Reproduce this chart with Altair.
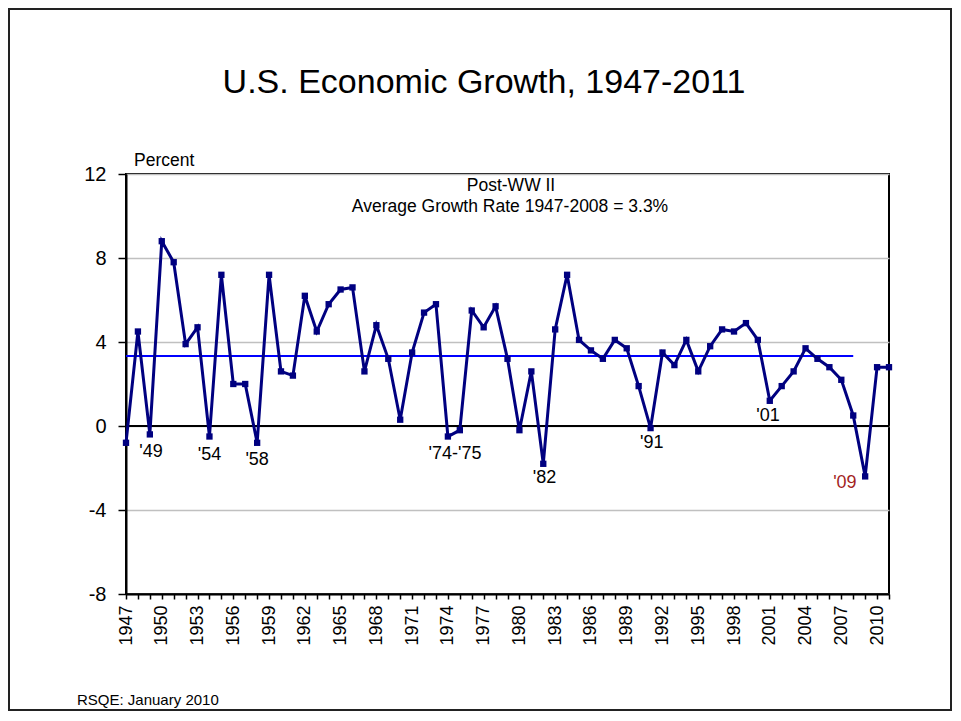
import altair as alt
import pandas as pd

# ---------------- data ----------------
years = list(range(1947, 2012))
growth = [-0.8, 4.5, -0.4, 8.8, 7.8, 3.9, 4.7, -0.5, 7.2, 2.0,
          2.0, -0.8, 7.2, 2.6, 2.4, 6.2, 4.5, 5.8, 6.5, 6.6,
          2.6, 4.8, 3.2, 0.3, 3.5, 5.4, 5.8, -0.5, -0.2, 5.5,
          4.7, 5.7, 3.2, -0.2, 2.6, -1.8, 4.6, 7.2, 4.1, 3.6,
          3.2, 4.1, 3.7, 1.9, -0.1, 3.5, 2.9, 4.1, 2.6, 3.8,
          4.6, 4.5, 4.9, 4.1, 1.2, 1.9, 2.6, 3.7, 3.2, 2.8,
          2.2, 0.5, -2.4, 2.8, 2.8]
avg_start = [1947]
avg_end = [2008]
avg_value = [3.33]
zero_line = [0]
y_ticks = [-8, -4, 0, 4, 8, 12]
label_text = ["'49", "'54", "'58", "'74-'75", "'82", "'91", "'01", "'09"]
label_year = [1949.1, 1954.0, 1958.0, 1974.6, 1982.1, 1991.1, 2000.85, 2007.3]
label_value = [-1.46, -1.62, -1.86, -1.57, -2.70, -1.06, 0.25, -2.97]

title_text = "U.S. Economic Growth, 1947-2011"
ann1 = "Post-WW II"
ann2 = "Average Growth Rate 1947-2008 = 3.3%"
ytitle = "Percent"
footer = "RSQE: January 2010"

# ---------------- chart ----------------
W, H = 763, 420
FONT = "Liberation Sans"
xscale = alt.Scale(domain=[1947, 2011], nice=False, zero=False)
yscale = alt.Scale(domain=[-8, 12], nice=False, zero=False)

df = pd.DataFrame({"year": years, "growth": growth})

xaxis = alt.Axis(values=years,
                 labelExpr="(datum.value - 1947) % 3 == 0 ? '' + datum.value : ''",
                 labelAngle=-90, labelFontSize=18, labelPadding=6,
                 labelOverlap=False, labelFlush=False, labelBound=False,
                 tickSize=5, tickColor="black", tickWidth=1.5,
                 domainColor="black", domainWidth=2, grid=False, title=None,
                 labelColor="black", labelFont=FONT)
yaxis = alt.Axis(values=y_ticks, labelExpr="'' + datum.value",
                 labelFontSize=20, labelPadding=12,
                 tickSize=8, tickColor="black", tickWidth=1.5,
                 domainColor="black", domainWidth=2,
                 grid=True, gridColor="#c0c0c0", gridWidth=1.5,
                 title=None, labelColor="black", labelFont=FONT)


def X(field):
    return alt.X(field, scale=xscale, axis=xaxis)


def Y(field):
    return alt.Y(field, scale=yscale, axis=yaxis)


base = alt.Chart(df)
line = base.mark_line(color="#000080", strokeWidth=3).encode(
    x=X("year:Q"), y=Y("growth:Q"))
points = base.mark_point(shape="square", filled=True, size=40,
                         color="#000080", opacity=1).encode(
    x=X("year:Q"), y=Y("growth:Q"))

zero = alt.Chart(pd.DataFrame({"v": zero_line})).mark_rule(
    color="black", strokeWidth=2).encode(y=Y("v:Q"))

avg = alt.Chart(pd.DataFrame({"x": avg_start, "x2": avg_end, "y": avg_value})).mark_rule(
    color="#0000ff", strokeWidth=2).encode(
    x=X("x:Q"), x2="x2:Q", y=Y("y:Q"))

labels_df = pd.DataFrame({"label": label_text, "year": label_year, "value": label_value})
labels = alt.Chart(labels_df).mark_text(
    font=FONT, fontSize=18, align="center", baseline="alphabetic").encode(
    x=X("year:Q"), y=Y("value:Q"),
    text="label:N",
    color=alt.condition(alt.datum.label == "'09", alt.value("#a31f1f"), alt.value("black")),
)


def txt(s, x, y, size, align="center"):
    return alt.Chart(pd.DataFrame({"t": [s]})).mark_text(
        font=FONT, fontSize=size, align=align, baseline="alphabetic", color="black"
    ).encode(text="t:N", x=alt.value(x), y=alt.value(y))


title = txt(title_text, 358, -81, 34)
t_ann1 = txt(ann1, 385, 17, 17.5)
t_ann2 = txt(ann2, 384, 38, 17.5)
t_ytitle = txt(ytitle, 8, -8, 17.5, align="left")
t_footer = txt(footer, -49, 531, 15, align="left")

frame = alt.Chart(pd.DataFrame({"a": [0]})).mark_rect(
    fillOpacity=0, stroke="#222222", strokeWidth=2).encode(
    x=alt.value(-117), x2=alt.value(825), y=alt.value(-165), y2=alt.value(536))

chart = alt.layer(
    zero, avg, line, points, labels, title, t_ann1, t_ann2, t_ytitle, t_footer, frame
).properties(
    width=W, height=H,
    autosize=alt.AutoSizeParams(type="none"),
    padding={"left": 118, "top": 166, "right": 63, "bottom": 117},
).configure(font=FONT).configure_view(stroke="black", strokeWidth=2)

chart.save("out.html", embed_options={"renderer": "svg", "actions": False})
